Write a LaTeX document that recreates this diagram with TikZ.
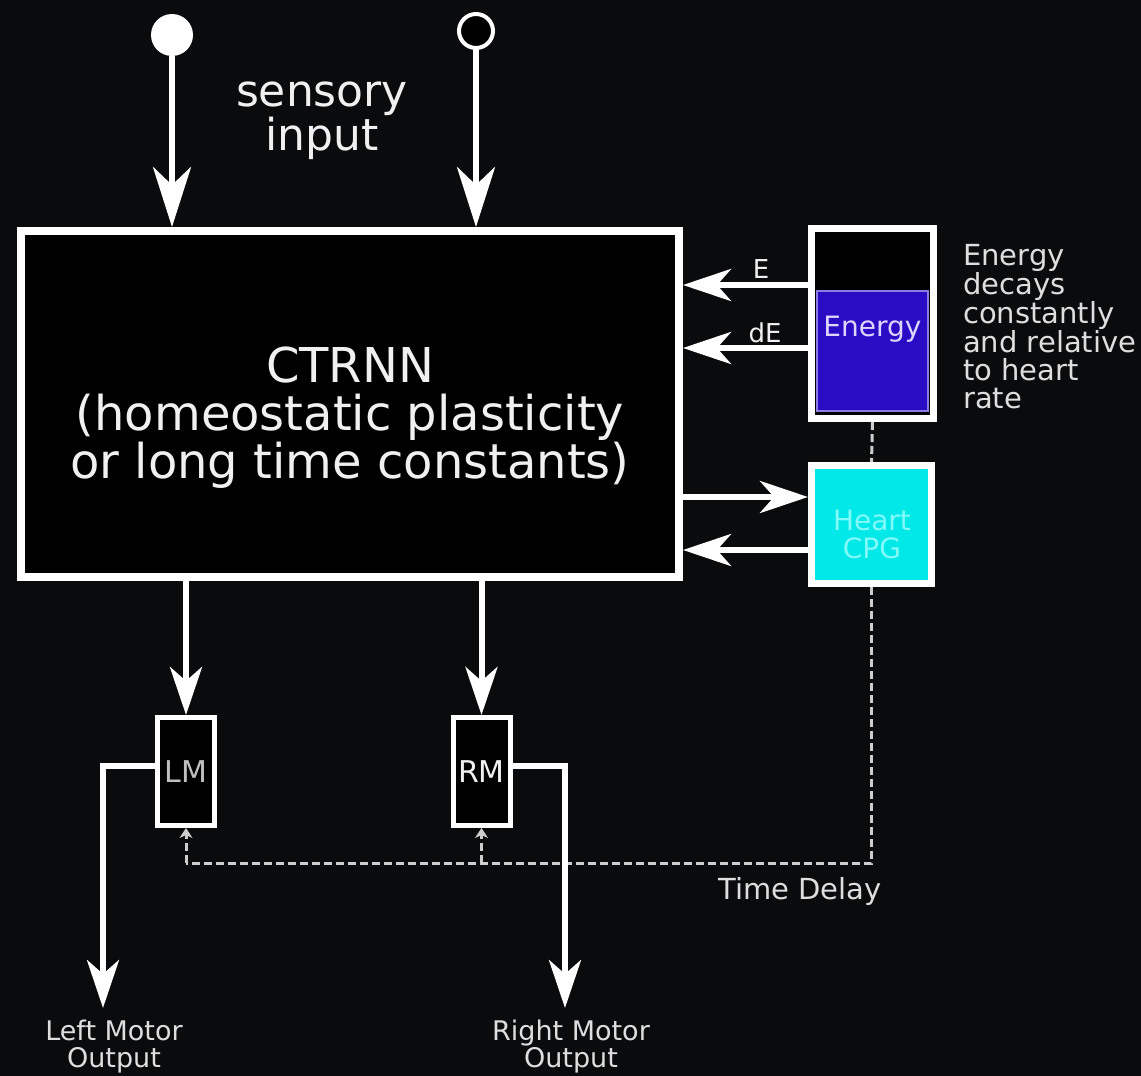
\documentclass[tikz,border=0pt]{standalone}
\usepackage{fontspec}
\setmainfont{DejaVu Sans}
\usetikzlibrary{arrows.meta}
\definecolor{bg}{RGB}{10,11,13}
\definecolor{txt}{RGB}{240,240,240}
\definecolor{sidetxt}{RGB}{222,222,222}
\definecolor{eblue}{RGB}{42,12,196}
\definecolor{lav}{RGB}{222,212,255}
\definecolor{hcyan}{RGB}{0,232,232}
\definecolor{hcyantxt}{RGB}{130,250,250}
\definecolor{dashgray}{RGB}{205,205,205}
\begin{document}
\begin{tikzpicture}[x=1pt,y=-1pt,
  conn/.style={draw=white,line width=6pt},
  bigtip/.style={-{Stealth[length=60pt,width=38pt,inset=18pt]}},
  midtip/.style={-{Stealth[length=48pt,width=32pt,inset=14pt]}},
  smalltip/.style={-{Stealth[length=10pt,width=13pt,inset=3pt]}},
  dashline/.style={draw=dashgray,line width=3pt,dash pattern=on 8pt off 4pt},
  boxw/.style={draw=white,fill=black,rectangle,inner sep=0pt},
  lbl/.style={inner sep=0pt,text=txt,align=center},
]
\useasboundingbox (0,0) rectangle (1141,1076);
\fill[bg] (0,0) rectangle (1141,1076);

% main box
\node[boxw,line width=8pt,minimum width=658pt,minimum height=346pt] (ctrnn) at (350,404) {};
\node[lbl,font=\fontsize{48}{48}\selectfont] (ctrnntxt) at (350,418)
  {CTRNN\\(homeostatic plasticity\\or long time constants)};

% sensory input
\node[circle,fill=white,minimum size=42pt,inner sep=0pt] (sin1) at (172,35) {};
\node[circle,draw=white,fill=black,line width=4pt,minimum size=34pt,inner sep=0pt] (sin2) at (476,31) {};
\draw[conn,bigtip] (sin1) -- (sin1 |- ctrnn.north);
\draw[conn,bigtip] (sin2) -- (sin2 |- ctrnn.north);
\node[lbl,font=\fontsize{44}{41}\selectfont] (sens) at (322,121) {sensory\\input};

% energy box
\node[boxw,line width=7pt,minimum width=122pt,minimum height=190pt] (energy) at (872.5,323.5) {};
\fill[eblue,draw=lav!55!eblue,line width=2pt] (817,291) rectangle (928,411);
\node[inner sep=0pt,text=lav,font=\fontsize{28}{28}\selectfont,anchor=base] (energytxt) at (872.5,336) {Energy};

% heart box
\node[draw=white,fill=hcyan,rectangle,line width=7pt,minimum width=120pt,minimum height=118pt] (heart) at (871.5,524.5) {};
\node[inner sep=0pt,align=center,text=hcyantxt,font=\fontsize{28}{28}\selectfont] (hearttxt) at (872,534) {Heart\\CPG};

% side note
\node[inner sep=0pt,align=left,text=sidetxt,font=\fontsize{29}{28}\selectfont,anchor=north west] (note) at (963,244)
  {Energy\\decays\\constantly\\and relative\\to heart\\rate};

% E / dE arrows
\draw[conn,midtip] (energy.west |- 0,285) -- (ctrnn.east |- 0,285);
\draw[conn,midtip] (energy.west |- 0,348) -- (ctrnn.east |- 0,348);
\node[lbl,font=\fontsize{26}{26}\selectfont] (elbl) at (761,269) {E};
\node[lbl,font=\fontsize{26}{26}\selectfont] (delbl) at (765,333) {dE};

% heart arrows
\draw[conn,midtip] (ctrnn.east |- 0,497) -- (heart.west |- 0,497);
\draw[conn,midtip] (heart.west |- 0,550) -- (ctrnn.east |- 0,550);

% energy - heart dashed
\draw[dashline] (energy.south) -- (heart.north);

% motor boxes
\node[boxw,line width=5pt,minimum width=57pt,minimum height=108pt,text=txt!80!black,font=\fontsize{30}{30}\selectfont] (lm) at (186,771.5) {LM};
\node[boxw,line width=5pt,minimum width=57pt,minimum height=108pt,text=txt,font=\fontsize{30}{30}\selectfont] (rm) at (481.5,771.5) {RM};
\draw[conn,midtip] (ctrnn.south -| lm) -- (lm.north);
\draw[conn,midtip] (ctrnn.south -| rm) -- (rm.north);

% time delay
\coordinate (tdl) at (186,863);
\coordinate (tdr) at (481.5,863);
\draw[dashline] (heart.south) |- (tdl);
\draw[dashline,smalltip] (tdl) -- (lm.south);
\draw[dashline,smalltip] (tdr) -- (rm.south);
\node[lbl,text=sidetxt,font=\fontsize{29}{29}\selectfont] (tdtxt) at (800,891) {Time Delay};

% motor outputs
\coordinate (lmout) at (103,1008);
\coordinate (rmout) at (565,1008);
\draw[conn,line width=5.5pt,midtip] (lm.west |- 0,766) -| (lmout);
\draw[conn,line width=5.5pt,midtip] (rm.east |- 0,766) -| (rmout);
\node[lbl,text=sidetxt,font=\fontsize{27}{27}\selectfont,anchor=north] (lmtxt) at (114,1020) {Left Motor\\Output};
\node[lbl,text=sidetxt,font=\fontsize{27}{27}\selectfont,anchor=north] (rmtxt) at (571,1020) {Right Motor\\Output};
\end{tikzpicture}
\end{document}
